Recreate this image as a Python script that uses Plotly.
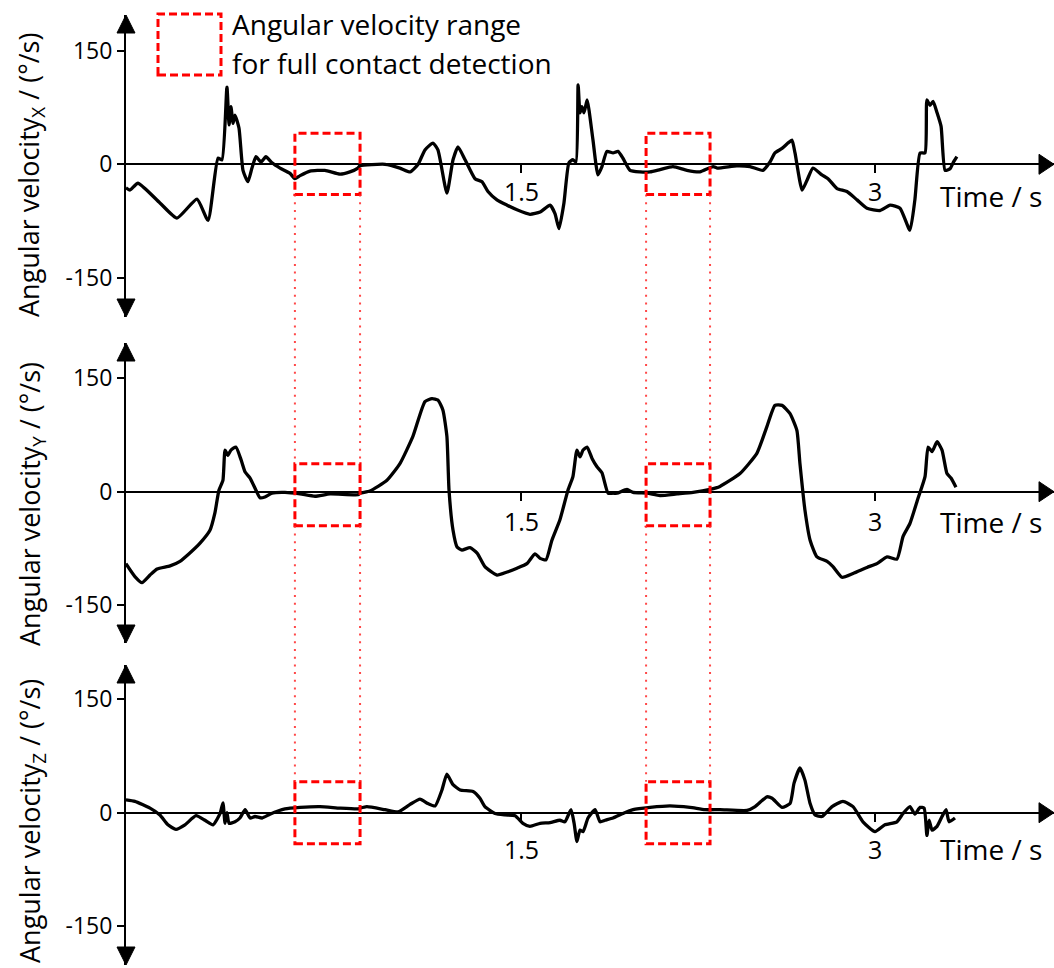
import plotly.graph_objects as go

W, H = 1054, 968

# ---------------- data ----------------
# Angular velocity X
t_x = [-0.174, -0.157, -0.123, -0.030, 0.042, 0.127, 0.174, 0.216, 0.233, 0.254,
       0.263, 0.271, 0.280, 0.288, 0.305, 0.322, 0.343, 0.360, 0.377, 0.398,
       0.419, 0.445, 0.479, 0.521, 0.542, 0.564, 0.606, 0.669, 0.733, 0.775,
       0.809, 0.818, 0.924, 0.987, 1.030, 1.064, 1.093, 1.127, 1.148, 1.186,
       1.212, 1.233, 1.263, 1.305, 1.335, 1.360, 1.398, 1.441, 1.483, 1.538,
       1.581, 1.623, 1.644, 1.661, 1.682, 1.703, 1.720, 1.733, 1.742, 1.750,
       1.758, 1.767, 1.780, 1.788, 1.805, 1.826, 1.843, 1.864, 1.890, 1.911,
       1.932, 1.962, 2.004, 2.047, 2.089, 2.144, 2.203, 2.258, 2.314, 2.331,
       2.415, 2.470, 2.525, 2.555, 2.576, 2.606, 2.631, 2.648, 2.661, 2.691,
       2.712, 2.737, 2.775, 2.801, 2.839, 2.881, 2.924, 2.966, 3.021, 3.064,
       3.106, 3.148, 3.169, 3.191, 3.212, 3.220, 3.233, 3.246, 3.263, 3.280,
       3.297, 3.318, 3.331, 3.347]
v_x = [-31, -34, -25, -51, -71, -46, -74, 8, 6, 102,
       52, 76, 54, 65, 48, -8, -23, -5, 10, 3,
       10, 2, -5, -12, -19, -15, -9, -8, -13, -10,
       -5, -2, 0, -5, -10, 0, 19, 28, 19, -38,
       6, 23, 6, -19, -23, -36, -47, -54, -60, -66,
       -63, -54, -65, -85, -51, 2, 6, 3, 105, 68,
       76, 68, 85, 72, 32, -14, -3, 17, 15, 17,
       8, -8, -10, -10, -7, -3, -8, -10, -3, -5,
       -2, -3, -8, 3, 15, 21, 28, 32, 15, -34,
       -21, -5, -14, -19, -32, -36, -47, -58, -61, -54,
       -58, -87, -47, 15, 15, 85, 78, 83, 68, 50,
       -8, -6, 2, 10]

# Angular velocity Y
t_y = [-0.174, -0.136, -0.106, -0.072, -0.042, 0.013, 0.055, 0.097, 0.140, 0.182,
       0.203, 0.220, 0.237, 0.246, 0.258, 0.271, 0.292, 0.314, 0.331, 0.352,
       0.377, 0.394, 0.415, 0.445, 0.500, 0.564, 0.627, 0.691, 0.809, 0.818,
       0.860, 0.932, 0.987, 1.042, 1.093, 1.123, 1.148, 1.169, 1.186, 1.195,
       1.212, 1.229, 1.250, 1.284, 1.314, 1.347, 1.398, 1.441, 1.483, 1.525,
       1.559, 1.581, 1.606, 1.631, 1.665, 1.699, 1.720, 1.737, 1.750, 1.763,
       1.780, 1.801, 1.822, 1.843, 1.869, 1.890, 1.907, 1.949, 1.975, 2.034,
       2.089, 2.161, 2.229, 2.301, 2.343, 2.428, 2.500, 2.542, 2.576, 2.606,
       2.640, 2.669, 2.682, 2.703, 2.725, 2.754, 2.797, 2.822, 2.860, 2.907,
       2.966, 3.008, 3.051, 3.093, 3.119, 3.148, 3.182, 3.212, 3.225, 3.242,
       3.263, 3.284, 3.305, 3.322, 3.343]
v_y = [-95, -112, -120, -110, -102, -98, -92, -81, -68, -51,
       -28, 2, 15, 55, 48, 55, 59, 42, 26, 18,
       2, -8, -7, -2, -1, -3, -6, -3, -4, -2,
       1, 15, 37, 73, 119, 123, 121, 108, 73, 2,
       -51, -73, -77, -74, -81, -99, -110, -106, -101, -95,
       -82, -88, -90, -64, -37, 2, 20, 55, 46, 55,
       59, 44, 33, 25, -2, -2, -2, 3, -1, -2,
       -5, -3, -1, 3, 7, 24, 51, 86, 114, 114,
       103, 81, 37, -24, -64, -86, -92, -99, -113, -108,
       -100, -95, -86, -89, -59, -42, -9, 20, 59, 53,
       66, 55, 24, 18, 6]

# Angular velocity Z
t_z = [-0.174, -0.136, -0.072, -0.030, 0.004, 0.038, 0.076, 0.123, 0.161, 0.195,
       0.225, 0.237, 0.246, 0.254, 0.263, 0.288, 0.309, 0.331, 0.352, 0.373,
       0.403, 0.436, 0.500, 0.564, 0.648, 0.733, 0.809, 0.818, 0.847, 0.924,
       0.979, 1.030, 1.072, 1.106, 1.136, 1.165, 1.186, 1.212, 1.242, 1.297,
       1.326, 1.347, 1.390, 1.432, 1.475, 1.508, 1.538, 1.581, 1.623, 1.665,
       1.686, 1.712, 1.725, 1.737, 1.750, 1.763, 1.784, 1.814, 1.835, 1.856,
       1.890, 1.932, 1.975, 2.047, 2.131, 2.216, 2.280, 2.343, 2.458, 2.492,
       2.542, 2.564, 2.606, 2.640, 2.657, 2.682, 2.703, 2.725, 2.746, 2.775,
       2.818, 2.864, 2.907, 2.949, 3.000, 3.042, 3.093, 3.119, 3.148, 3.169,
       3.191, 3.208, 3.220, 3.229, 3.242, 3.263, 3.284, 3.301, 3.314, 3.339]
v_z = [17, 15, 6, -3, -16, -22, -16, -4, -10, -16,
       -1, 13, -14, 0, -14, -12, -7, 4, -7, -5,
       -7, -2, 5, 7, 8, 6, 5, 6, 8, 4,
       1, 11, 18, 12, 9, 30, 51, 37, 30, 28,
       19, 8, -1, -3, -4, -14, -18, -14, -13, -10,
       -12, 4, -14, -38, -23, -25, -7, 4, -12, -10,
       -7, -1, 4, 7, 9, 7, 4, 4, 3, 8,
       21, 19, 7, 12, 39, 59, 43, 12, -3, -5,
       8, 15, 8, -12, -25, -16, -12, -1, 8, -2,
       7, 6, -30, -10, -23, -18, -5, 4, -12, -7]

series_t = [t_x, t_y, t_z]
series_v = [v_x, v_y, v_z]
for a, b in zip(series_t, series_v):
    assert len(a) == len(b), (len(a), len(b))

x_tick_vals = [1.5, 3]
x_tick_text = ["1.5", "3"]
y_tick_vals = [-150, 0, 150]
y_tick_text = ["-150", "0", "150"]

# contact-detection windows (time, s) and their angular-velocity range per panel
box_t0 = [0.542, 2.030]
box_t1 = [0.818, 2.301]
box_lo = [-40, -45, -41]
box_hi = [41, 37, 41]

y_titles = ["Angular velocity<sub>X</sub> / (°/s)",
            "Angular velocity<sub>Y</sub> / (°/s)",
            "Angular velocity<sub>Z</sub> / (°/s)"]
legend_lines = ["Angular velocity range", "for full contact detection"]
x_title = "Time / s"

# ---------------- layout geometry (pixels) ----------------
FONT = "Open Sans"
TXT = 28
AX_PX = 126                      # y-axis position
X_PER_S = 236.0                  # pixels per second
T_AT_0 = 167                     # pixel of t = 0
PX_PER_UNIT = 113.6 / 150.0
panels = [(15, 317, 164.3), (343, 643, 491.7), (665, 965, 812.7)]  # top tip, bottom tip, zero line
tick_drop = [27, 29, 36]        # x tick label centre below the axis line
title_drop = [32, 30, 36]       # "Time / s" centre below the axis line
ytitle_mid = [175, 504, 821]    # centre of the rotated y titles


def fx(p):
    return p / W


def fy(p):
    return 1 - p / H


x_range = [(AX_PX - T_AT_0) / X_PER_S, (W - T_AT_0) / X_PER_S]

fig = go.Figure()
layout = dict(width=W, height=H, margin=dict(l=0, r=0, t=0, b=0),
              paper_bgcolor="white", plot_bgcolor="rgba(0,0,0,0)",
              showlegend=False, font=dict(family=FONT, color="black"))
shapes = []
annotations = []

for i, (top, bot, zero) in enumerate(panels):
    n = "" if i == 0 else str(i + 1)
    yr = [-(bot - zero) / PX_PER_UNIT, (zero - top) / PX_PER_UNIT]
    fig.add_trace(go.Scatter(x=series_t[i], y=series_v[i], mode="lines",
                             line=dict(color="black", width=3.3, shape="spline", smoothing=0.5),
                             xaxis="x" + n, yaxis="y" + n, hoverinfo="skip"))
    layout["xaxis" + n] = dict(domain=[AX_PX / W, 1], range=x_range, anchor="free",
                               position=fy(zero), showline=True, linecolor="black",
                               linewidth=2, ticks="outside", ticklen=8, tickwidth=1.5,
                               tickcolor="black", tickvals=x_tick_vals, showticklabels=False,
                               showgrid=False, zeroline=False, fixedrange=True)
    layout["yaxis" + n] = dict(domain=[fy(bot), fy(top)], range=yr, anchor="x" + n,
                               showline=True, linecolor="black", linewidth=2,
                               ticks="outside", ticklen=7, tickwidth=2, tickcolor="black",
                               tickvals=y_tick_vals, ticktext=y_tick_text,
                               tickfont=dict(family=FONT, size=23, color="black"),
                               showgrid=False, zeroline=False, fixedrange=True)
    # x tick labels
    for tv, tt in zip(x_tick_vals, x_tick_text):
        annotations.append(dict(text=tt, xref="x" + n, yref="y" + n, x=tv, y=0,
                                yshift=-tick_drop[i], showarrow=False,
                                xanchor="center", yanchor="middle",
                                font=dict(family=FONT, size=25, color="black")))
    # arrow heads of the y axis
    shapes.append(dict(type="path", xref="paper", yref="paper", layer="above",
                       path=f"M {fx(AX_PX-9)},{fy(top+18)} L {fx(AX_PX)},{fy(top)} L {fx(AX_PX+9)},{fy(top+18)} Z",
                       fillcolor="black", line=dict(color="black", width=1)))
    shapes.append(dict(type="path", xref="paper", yref="paper", layer="above",
                       path=f"M {fx(AX_PX-9)},{fy(bot-18)} L {fx(AX_PX)},{fy(bot)} L {fx(AX_PX+9)},{fy(bot-18)} Z",
                       fillcolor="black", line=dict(color="black", width=1)))
    # arrow head of the time axis
    shapes.append(dict(type="path", xref="paper", yref="paper", layer="above",
                       path=f"M {fx(W-15)},{fy(zero-10)} L {fx(W)},{fy(zero)} L {fx(W-15)},{fy(zero+10)} Z",
                       fillcolor="black", line=dict(color="black", width=1)))
    # red dashed boxes
    for a, b in zip(box_t0, box_t1):
        shapes.append(dict(type="rect", xref="x" + n, yref="y" + n, x0=a, x1=b,
                           y0=box_lo[i], y1=box_hi[i], layer="above",
                           line=dict(color="#ff0000", width=3, dash="8px,4px")))
    # y-axis title
    annotations.append(dict(text=y_titles[i], xref="paper", yref="paper",
                            x=fx(31), y=fy(ytitle_mid[i]), textangle=-90,
                            showarrow=False, xanchor="center", yanchor="middle",
                            font=dict(family=FONT, size=27, color="black")))
    # time label
    annotations.append(dict(text=x_title, xref="paper", yref="paper",
                            x=fx(1044), y=fy(zero + title_drop[i]), showarrow=False,
                            xanchor="right", yanchor="middle",
                            font=dict(family=FONT, size=TXT, color="black")))


def val_to_px(i, v):
    top, bot, zero = panels[i]
    return zero - v * PX_PER_UNIT


# dotted connectors between the boxes of consecutive panels
for i in range(2):
    ya = val_to_px(i, box_lo[i])
    yb = val_to_px(i + 1, box_hi[i + 1])
    for tv in box_t0 + box_t1:
        shapes.append(dict(type="line", xref="x", yref="paper", x0=tv, x1=tv,
                           y0=fy(ya), y1=fy(yb), layer="above",
                           line=dict(color="rgba(255,40,40,0.85)", width=2, dash="2px,5.7px")))

# legend
shapes.append(dict(type="rect", xref="paper", yref="paper", x0=fx(158), x1=fx(221),
                   y0=fy(75), y1=fy(14), line=dict(color="#ff0000", width=3, dash="8px,4px")))
annotations.append(dict(text=legend_lines[0], xref="paper", yref="paper", x=fx(230), y=fy(24),
                        showarrow=False, xanchor="left", yanchor="middle",
                        font=dict(family=FONT, size=TXT, color="black")))
annotations.append(dict(text=legend_lines[1], xref="paper", yref="paper", x=fx(230), y=fy(63),
                        showarrow=False, xanchor="left", yanchor="middle",
                        font=dict(family=FONT, size=TXT, color="black")))

layout["shapes"] = shapes
layout["annotations"] = annotations
fig.update_layout(**layout)

fig.write_html("out.html", config={"displayModeBar": False},
               post_script="document.body.style.margin='0';document.body.style.overflow='hidden';")
